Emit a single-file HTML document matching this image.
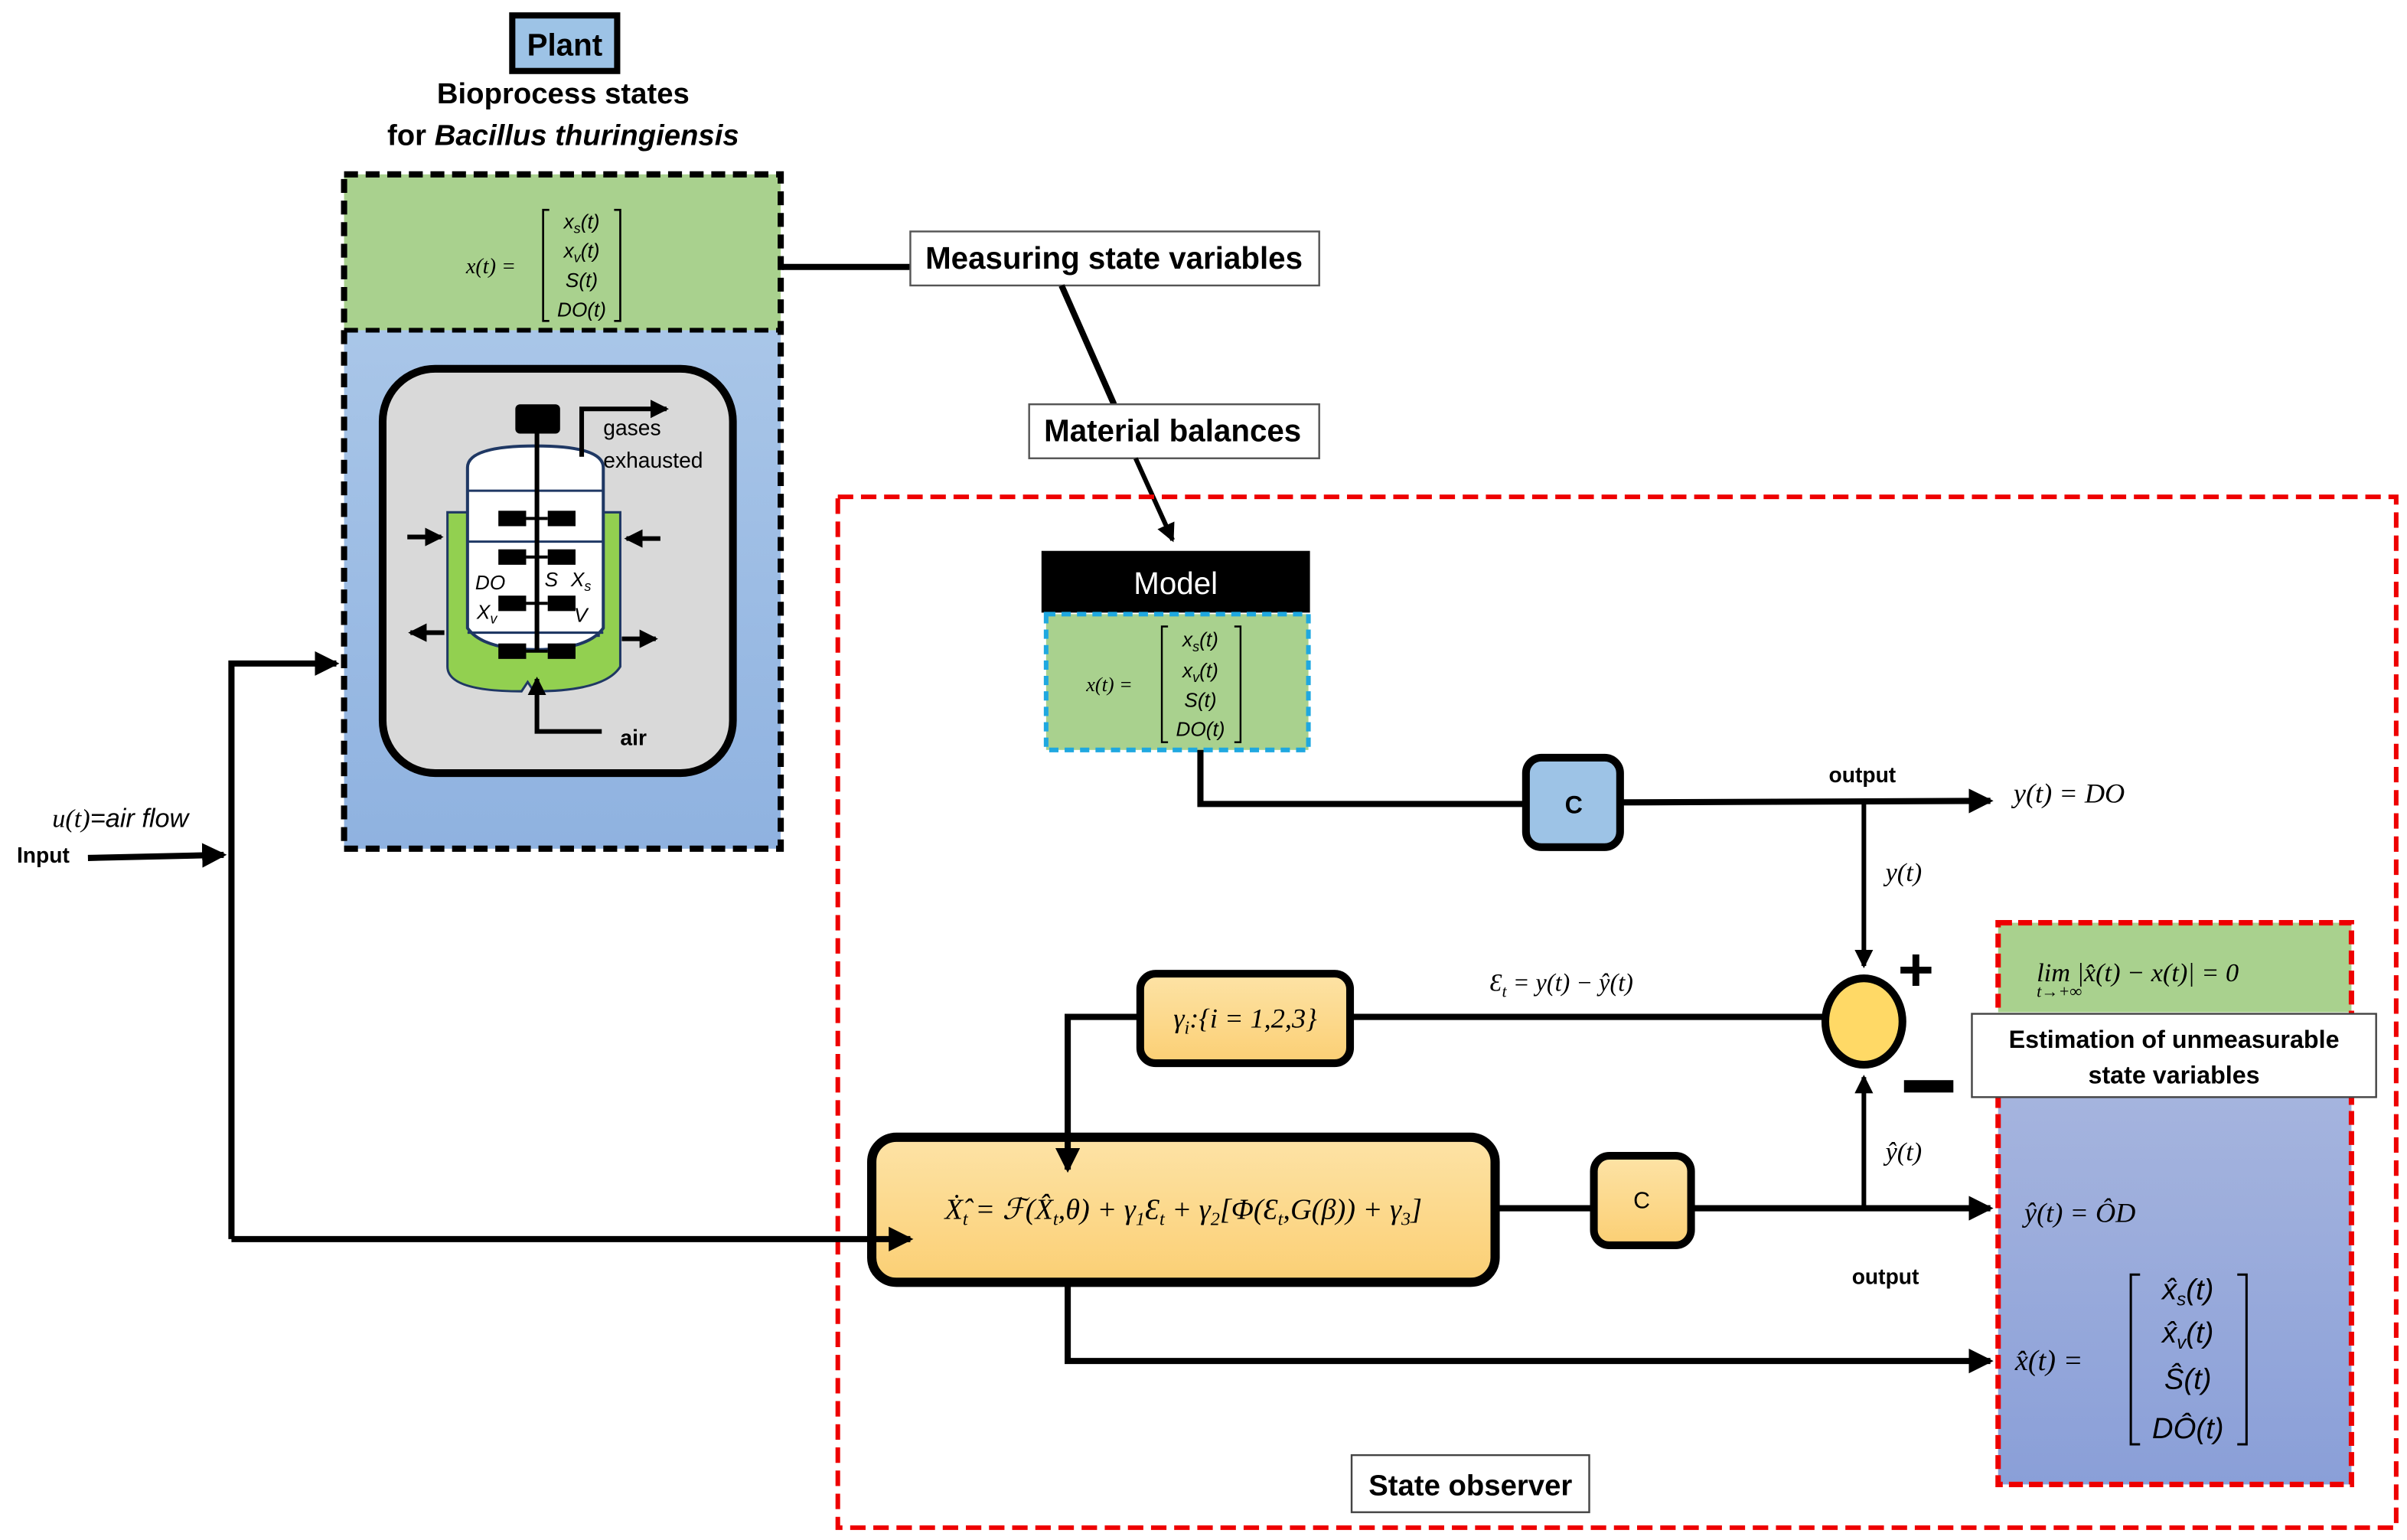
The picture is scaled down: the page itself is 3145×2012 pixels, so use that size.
<!DOCTYPE html>
<html><head><meta charset="utf-8"><style>
html,body{margin:0;padding:0;background:#fff;}
svg{display:block;}
text{font-family:"Liberation Sans",sans-serif;}
.m{font-family:"Liberation Serif",serif;font-style:italic;}
.b{font-weight:bold;}
</style></head><body>
<svg width="3145" height="2012" viewBox="0 0 1560 998" preserveAspectRatio="none" xmlns="http://www.w3.org/2000/svg">
<defs>
<marker id="ah2" markerWidth="4" markerHeight="4" refX="3.5" refY="2" orient="auto" markerUnits="strokeWidth"><path d="M0,0 L4,2 L0,4 z" fill="#000"/></marker>
<linearGradient id="bg1" x1="0" y1="0" x2="0" y2="1"><stop offset="0" stop-color="#a9c6e8"/><stop offset="1" stop-color="#8fb2e0"/></linearGradient>
<linearGradient id="bg2" x1="0" y1="0" x2="0" y2="1"><stop offset="0" stop-color="#a5b4de"/><stop offset="1" stop-color="#8a9fd8"/></linearGradient>
<linearGradient id="og" x1="0" y1="0" x2="0" y2="1"><stop offset="0" stop-color="#fde3a6"/><stop offset="1" stop-color="#fbcf74"/></linearGradient>
</defs>

<rect x="332" y="10" width="68" height="36" fill="#9dc3e6" stroke="#000" stroke-width="4"/>
<text x="366" y="36" font-size="20" class="b" text-anchor="middle">Plant</text>
<text x="365" y="67" font-size="19" class="b" text-anchor="middle">Bioprocess states</text>
<text x="365" y="94" font-size="19" class="b" text-anchor="middle">for <tspan font-style="italic">Bacillus thuringiensis</tspan></text>

<rect x="223" y="214" width="283" height="336" fill="url(#bg1)"/>
<rect x="223" y="113" width="283" height="101" fill="#a9d18e"/>
<rect x="223" y="113" width="283" height="437" fill="none" stroke="#000" stroke-width="4" stroke-dasharray="9,5"/>
<line x1="223" y1="214" x2="506" y2="214" stroke="#000" stroke-width="3" stroke-dasharray="9,5"/>
<text x="302" y="177" font-size="14" class="m">x(t) =</text>
<path d="M356,136 h-4 v72 h4 M398,136 h4 v72 h-4" fill="none" stroke="#000" stroke-width="1.3"/>
<g class="m" font-size="13" text-anchor="middle"><text x="377" y="148">x<tspan font-size="9" dy="3">s</tspan><tspan dy="-3">(t)</tspan></text><text x="377" y="167">x<tspan font-size="9" dy="3">v</tspan><tspan dy="-3">(t)</tspan></text><text x="377" y="186">S(t)</text><text x="377" y="205">DO(t)</text></g>

<rect x="248" y="239" width="227" height="262" rx="34" fill="#d9d9d9" stroke="#000" stroke-width="5"/>
<path d="M290,332 h18 v80 h80 v-80 h14 v100 q-10,16 -56,16 l-4,-6 l-4,6 q-48,0 -48,-16 z" fill="#92d050" stroke="#1f3864" stroke-width="1.5"/>
<path d="M303,303 q0,-14 44,-14 q44,0 44,14 v104 q-10,14 -44,14 q-34,0 -44,-14 z" fill="#fff" stroke="#1f3864" stroke-width="2"/>
<line x1="303" y1="318" x2="391" y2="318" stroke="#1f3864" stroke-width="1.5"/>
<line x1="303" y1="351" x2="391" y2="351" stroke="#1f3864" stroke-width="1.5"/>
<line x1="303" y1="410" x2="391" y2="410" stroke="#1f3864" stroke-width="1.5"/>
<rect x="334" y="262" width="29" height="19" rx="3" fill="#000"/>
<line x1="348" y1="280" x2="348" y2="422" stroke="#000" stroke-width="3"/>
<g fill="#000"><rect x="323" y="331" width="18" height="10"/><rect x="355" y="331" width="18" height="10"/><rect x="323" y="356" width="18" height="10"/><rect x="355" y="356" width="18" height="10"/><rect x="323" y="386" width="18" height="10"/><rect x="355" y="386" width="18" height="10"/><rect x="323" y="417" width="18" height="10"/><rect x="355" y="417" width="18" height="10"/></g>
<line x1="341" y1="336" x2="355" y2="336" stroke="#000" stroke-width="2"/><line x1="341" y1="361" x2="355" y2="361" stroke="#000" stroke-width="2"/><line x1="341" y1="391" x2="355" y2="391" stroke="#000" stroke-width="2"/><line x1="341" y1="422" x2="355" y2="422" stroke="#000" stroke-width="2"/>
<g class="m" font-size="13"><text x="308" y="382">DO</text><text x="353" y="380">S</text><text x="370" y="380">X<tspan font-size="9" dy="3">s</tspan></text><text x="309" y="401">X<tspan font-size="9" dy="3">v</tspan></text><text x="372" y="403">V</text></g>
<path d="M377,296 V265 H432" fill="none" stroke="#000" stroke-width="3" marker-end="url(#ah2)"/>
<text x="391" y="282" font-size="14">gases</text><text x="391" y="303" font-size="14">exhausted</text>
<line x1="264" y1="348" x2="286" y2="348" stroke="#000" stroke-width="3" marker-end="url(#ah2)"/>
<line x1="428" y1="349" x2="406" y2="349" stroke="#000" stroke-width="3" marker-end="url(#ah2)"/>
<line x1="288" y1="410" x2="266" y2="410" stroke="#000" stroke-width="3" marker-end="url(#ah2)"/>
<line x1="403" y1="414" x2="425" y2="414" stroke="#000" stroke-width="3" marker-end="url(#ah2)"/>
<path d="M390,474 H348 V440" fill="none" stroke="#000" stroke-width="3" marker-end="url(#ah2)"/>
<text x="402" y="483" font-size="14" class="b">air</text>

<line x1="507" y1="173" x2="590" y2="173" stroke="#000" stroke-width="4"/>
<rect x="590" y="150" width="265" height="35" fill="#fff" stroke="#555" stroke-width="1.2"/>
<text x="722" y="174" font-size="20" class="b" text-anchor="middle">Measuring state variables</text>
<line x1="688" y1="185" x2="722" y2="262" stroke="#000" stroke-width="4"/>
<rect x="667" y="262" width="188" height="35" fill="#fff" stroke="#555" stroke-width="1.2"/>
<text x="760" y="286" font-size="20" class="b" text-anchor="middle">Material balances</text>
<line x1="736" y1="297" x2="760" y2="350" stroke="#000" stroke-width="3" marker-end="url(#ah2)"/>

<rect x="543" y="322" width="1010" height="668" fill="none" stroke="#e00" stroke-width="3" stroke-dasharray="10,5"/>

<rect x="675" y="357" width="174" height="40" fill="#000"/>
<text x="762" y="385" font-size="20" fill="#fff" text-anchor="middle">Model</text>
<rect x="678" y="398" width="170" height="88" fill="#a9d18e" stroke="#1fa8e0" stroke-width="3" stroke-dasharray="6,4"/>
<text x="704" y="448" font-size="13" class="m">x(t) =</text>
<path d="M757,406 h-4 v75 h4 M800,406 h4 v75 h-4" fill="none" stroke="#000" stroke-width="1.2"/>
<g class="m" font-size="13" text-anchor="middle"><text x="778" y="419">x<tspan font-size="9" dy="3">s</tspan><tspan dy="-3">(t)</tspan></text><text x="778" y="439">x<tspan font-size="9" dy="3">v</tspan><tspan dy="-3">(t)</tspan></text><text x="778" y="458">S(t)</text><text x="778" y="477">DO(t)</text></g>

<path d="M778,486 V521 H989" fill="none" stroke="#000" stroke-width="4"/>
<rect x="989" y="491" width="61" height="58" rx="10" fill="#9dc3e6" stroke="#000" stroke-width="5"/>
<text x="1020" y="527" font-size="16" class="b" text-anchor="middle">C</text>
<line x1="1050" y1="520" x2="1290" y2="519" stroke="#000" stroke-width="4" marker-end="url(#ah2)"/>
<text x="1207" y="507" font-size="14" class="b" text-anchor="middle">output</text>
<text x="1305" y="520" font-size="18" class="m">y(t) = DO</text>
<line x1="1208" y1="519" x2="1208" y2="626" stroke="#000" stroke-width="3" marker-end="url(#ah2)"/>
<text x="1222" y="571" font-size="17" class="m">y(t)</text>

<ellipse cx="1208" cy="662" rx="25" ry="28" fill="#ffd966" stroke="#000" stroke-width="5"/>
<text x="1230" y="642" font-size="40" class="b">+</text>
<rect x="1234" y="700" width="32" height="8" fill="#000"/>
<line x1="1208" y1="783" x2="1208" y2="698" stroke="#000" stroke-width="3" marker-end="url(#ah2)"/>
<text x="1222" y="752" font-size="17" class="m">ŷ(t)</text>

<line x1="1182" y1="659" x2="876" y2="659" stroke="#000" stroke-width="4"/>
<rect x="739" y="631" width="136" height="58" rx="10" fill="url(#og)" stroke="#000" stroke-width="5"/>
<text x="807" y="666" font-size="18" class="m" text-anchor="middle">γ<tspan font-size="12" dy="4">i</tspan><tspan dy="-4">:{i = 1,2,3}</tspan></text>
<text x="1012" y="642" font-size="16" class="m" text-anchor="middle">Ɛ<tspan font-size="11" dy="4">t</tspan><tspan dy="-4"> = y(t) − ŷ(t)</tspan></text>

<rect x="565" y="737" width="404" height="94" rx="16" fill="url(#og)" stroke="#000" stroke-width="6"/>
<text x="767" y="790" font-size="19" class="m" text-anchor="middle">Ẋ̂<tspan font-size="12" dy="4">t</tspan><tspan dy="-4"> = ℱ(X̂</tspan><tspan font-size="12" dy="4">t</tspan><tspan dy="-4">,θ) + γ</tspan><tspan font-size="12" dy="4">1</tspan><tspan dy="-4">Ɛ</tspan><tspan font-size="12" dy="4">t</tspan><tspan dy="-4"> + γ</tspan><tspan font-size="12" dy="4">2</tspan><tspan dy="-4">[Φ(Ɛ</tspan><tspan font-size="12" dy="4">t</tspan><tspan dy="-4">,G(β)) + γ</tspan><tspan font-size="12" dy="4">3</tspan><tspan dy="-4">]</tspan></text>
<path d="M739,659 H692 V758" fill="none" stroke="#000" stroke-width="4" marker-end="url(#ah2)"/>

<line x1="970" y1="783" x2="1033" y2="783" stroke="#000" stroke-width="4"/>
<rect x="1033" y="749" width="63" height="58" rx="10" fill="url(#og)" stroke="#000" stroke-width="5"/>
<text x="1064" y="783" font-size="15" text-anchor="middle">C</text>
<line x1="1096" y1="783" x2="1290" y2="783" stroke="#000" stroke-width="4" marker-end="url(#ah2)"/>
<text x="1222" y="832" font-size="14" class="b" text-anchor="middle">output</text>
<path d="M692,832 V882 H1290" fill="none" stroke="#000" stroke-width="4" marker-end="url(#ah2)"/>

<text x="78" y="536" font-size="17" text-anchor="middle"><tspan class="m">u(t)</tspan><tspan font-style="italic">=air flow</tspan></text>
<text x="28" y="559" font-size="14" class="b" text-anchor="middle">Input</text>
<line x1="57" y1="556" x2="145" y2="554" stroke="#000" stroke-width="4" marker-end="url(#ah2)"/>
<path d="M150,803 V430 H218" fill="none" stroke="#000" stroke-width="4" marker-end="url(#ah2)"/>
<line x1="150" y1="803" x2="590" y2="803" stroke="#000" stroke-width="4" marker-end="url(#ah2)"/>

<rect x="1295" y="711" width="229" height="251" fill="url(#bg2)"/>
<rect x="1295" y="598" width="229" height="58" fill="#a9d18e"/>
<rect x="1295" y="598" width="229" height="364" fill="none" stroke="#e00" stroke-width="3.5" stroke-dasharray="9,4"/>
<text x="1320" y="636" font-size="17" class="m">lim |x̂(t) − x(t)| = 0</text>
<text x="1320" y="646" font-size="11" class="m">t→+∞</text>
<rect x="1278" y="657" width="262" height="54" fill="#fff" stroke="#444" stroke-width="1.2"/>
<text x="1409" y="679" font-size="16" class="b" text-anchor="middle">Estimation of unmeasurable</text>
<text x="1409" y="702" font-size="16" class="b" text-anchor="middle">state variables</text>
<text x="1312" y="792" font-size="18" class="m">ŷ(t) = ÔD</text>
<text x="1306" y="888" font-size="19" class="m">x̂(t) =</text>
<path d="M1387,826 h-6 v110 h6 M1450,826 h6 v110 h-6" fill="none" stroke="#000" stroke-width="1.5"/>
<g class="m" font-size="19" text-anchor="middle"><text x="1418" y="842">x̂<tspan font-size="12" dy="4">s</tspan><tspan dy="-4">(t)</tspan></text><text x="1418" y="870">x̂<tspan font-size="12" dy="4">v</tspan><tspan dy="-4">(t)</tspan></text><text x="1418" y="900">Ŝ(t)</text><text x="1418" y="932">DÔ(t)</text></g>

<rect x="876" y="943" width="154" height="37" fill="#fff" stroke="#444" stroke-width="1.2"/>
<text x="953" y="969" font-size="19" class="b" text-anchor="middle">State observer</text>
</svg>
</body></html>
